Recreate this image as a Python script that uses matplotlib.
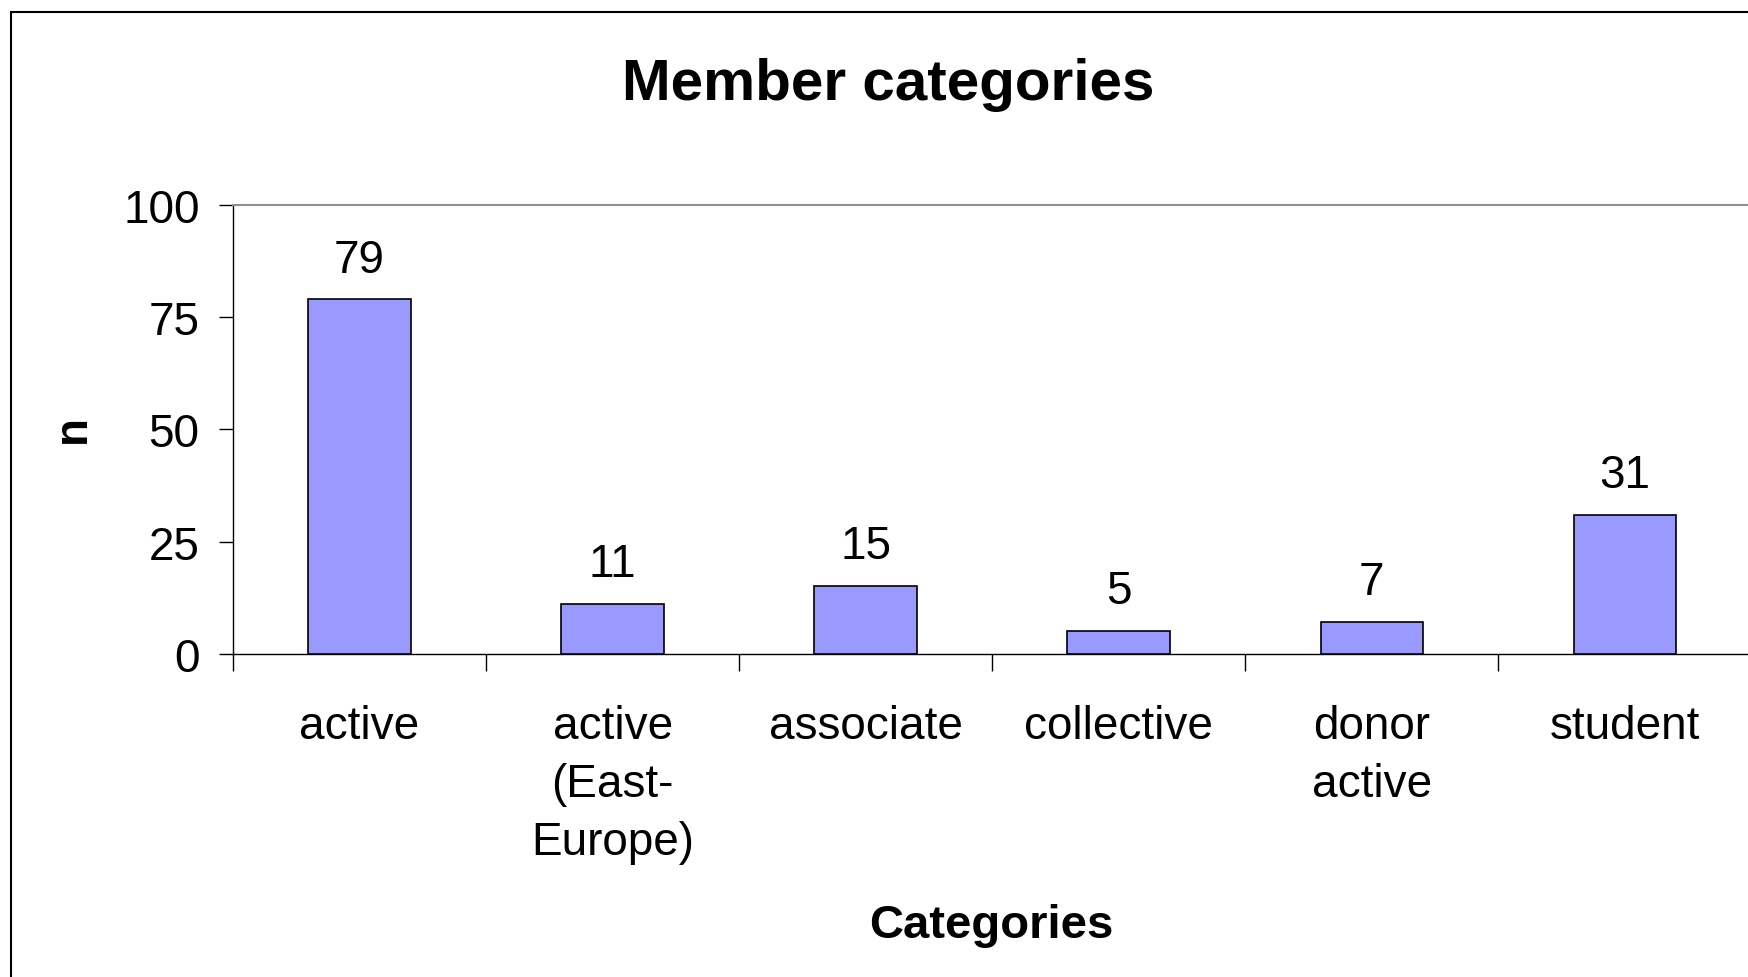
import matplotlib
matplotlib.use("Agg")
import matplotlib.pyplot as plt
from matplotlib.patches import Rectangle

categories = ["active", "active\n(East-\nEurope)", "associate", "collective", "donor\nactive", "student"]
values = [79, 11, 15, 5, 7, 31]
yticks = [0, 25, 50, 75, 100]

plt.rcParams['font.family'] = ['Liberation Sans', 'DejaVu Sans']

W, H = 1568.0, 877.0
fig = plt.figure(figsize=(17.48, 9.78), dpi=100)
fig.patch.set_facecolor('white')

# outer chart frame
fig.patches.append(Rectangle((10 / W, -0.2), 1.5, 1.2 - 12 / H, transform=fig.transFigure,
                             fill=False, edgecolor='black', linewidth=1.5))

left = 209 / W
bottom = 1 - 587 / H
height = (587 - 185) / H
width = (6 * 227) / W
ax = fig.add_axes([left, bottom, width, height])

x = list(range(len(values)))
ax.bar(x, values, width=0.405, color='#9999FF', edgecolor='black', linewidth=1.2, zorder=3)
for xi, v in zip(x, values):
    ax.text(xi, v + 4, str(v), ha='center', va='bottom', fontsize=33)

ax.set_xlim(-0.5, 5.5)
ax.set_ylim(0, 100)
ax.set_yticks(yticks)
ax.set_yticklabels([str(t) for t in yticks], fontsize=33)
ax.tick_params(axis='y', direction='out', length=10, width=1, pad=14)

# category boundaries as ticks, labels at centers
ax.set_xticks([i - 0.5 for i in range(len(values) + 1)])
ax.set_xticklabels([])
ax.set_xticks(x, minor=True)
ax.set_xticklabels(categories, minor=True, fontsize=33, linespacing=1.42, va='top')
ax.tick_params(axis='x', which='major', direction='out', length=12, width=1)
ax.tick_params(axis='x', which='minor', length=0, pad=36)

ax.spines['right'].set_visible(False)
ax.spines['top'].set_color('#909090')
ax.spines['top'].set_linewidth(1.5)
ax.spines['left'].set_linewidth(1)
ax.spines['bottom'].set_linewidth(1)

fig.text(797 / W, 1 - 76 / H, "Member categories", ha='center', va='center', fontsize=42, fontweight='bold')
fig.text(65 / W, 1 - 385 / H, "n", ha='center', va='center', fontsize=33, fontweight='bold', rotation=90)
fig.text(889 / W, 1 - 830 / H, "Categories", ha='center', va='center', fontsize=34, fontweight='bold')

fig.savefig("out.png", dpi=100)
